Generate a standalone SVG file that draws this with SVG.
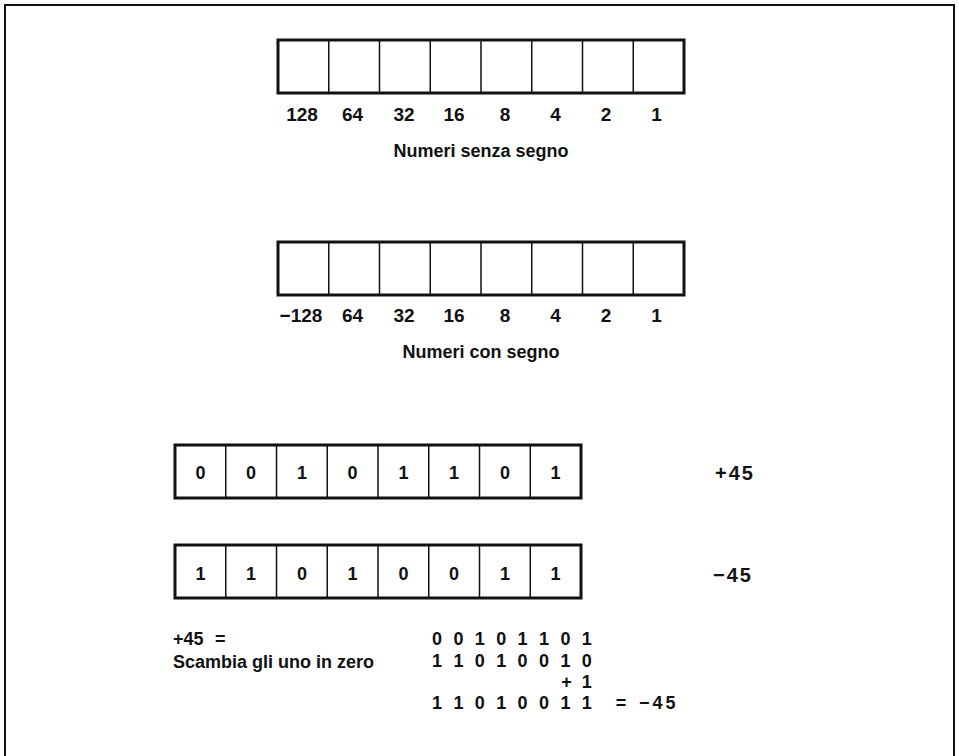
<svg xmlns="http://www.w3.org/2000/svg" width="959" height="756" viewBox="0 0 959 756">
<style>
text{font-family:"Liberation Sans",Arial,sans-serif;font-weight:bold;fill:#111;}
.lbl{font-size:19px;text-anchor:middle;}
.dig{font-size:18px;text-anchor:middle;}
.cap{font-size:18px;text-anchor:middle;}
.txt{font-size:18px;}
.val{font-size:20px;letter-spacing:2px;}
.outer{fill:#fff;stroke:#111;stroke-width:3;}
.div{stroke:#111;stroke-width:1.5;}
.frame{fill:none;stroke:#111;stroke-width:2;}
</style>
<rect width="959" height="756" fill="#fff"/>
<path class="frame" d="M5,756 V5 H954 V756"/>

<g id="reg-unsigned">
<rect class="outer" x="278" y="40" width="406" height="53"/>
<path class="div" d="M328.75,40V93M379.5,40V93M430.25,40V93M481,40V93M531.75,40V93M582.5,40V93M633.25,40V93"/>
<text class="lbl" y="121"><tspan x="302">128</tspan><tspan x="352.5">64</tspan><tspan x="404">32</tspan><tspan x="454">16</tspan><tspan x="505">8</tspan><tspan x="555.5">4</tspan><tspan x="606">2</tspan><tspan x="656.5">1</tspan></text>
<text class="cap" x="481" y="157">Numeri senza segno</text>
</g>

<g id="reg-signed">
<rect class="outer" x="278" y="242" width="406" height="53"/>
<path class="div" d="M328.75,242V295M379.5,242V295M430.25,242V295M481,242V295M531.75,242V295M582.5,242V295M633.25,242V295"/>
<text class="lbl" y="322"><tspan x="301">−128</tspan><tspan x="352.5">64</tspan><tspan x="404">32</tspan><tspan x="454">16</tspan><tspan x="505">8</tspan><tspan x="555.5">4</tspan><tspan x="606">2</tspan><tspan x="656.5">1</tspan></text>
<text class="cap" x="481" y="358">Numeri con segno</text>
</g>

<g id="reg-plus45">
<rect class="outer" x="175" y="445" width="406" height="53"/>
<path class="div" d="M225.75,445V498M276.5,445V498M327.25,445V498M378,445V498M428.75,445V498M479.5,445V498M530.25,445V498"/>
<text class="dig" y="479"><tspan x="200.4">0</tspan><tspan x="251.1">0</tspan><tspan x="301.9">1</tspan><tspan x="352.6">0</tspan><tspan x="403.4">1</tspan><tspan x="454.1">1</tspan><tspan x="504.9">0</tspan><tspan x="555.6">1</tspan></text>
</g>
<text id="val-plus45" class="val" x="715" y="480">+45</text>

<g id="reg-minus45">
<rect class="outer" x="175" y="545" width="406" height="53"/>
<path class="div" d="M225.75,545V598M276.5,545V598M327.25,545V598M378,545V598M428.75,545V598M479.5,545V598M530.25,545V598"/>
<text class="dig" y="580"><tspan x="200.4">1</tspan><tspan x="251.1">1</tspan><tspan x="301.9">0</tspan><tspan x="352.6">1</tspan><tspan x="403.4">0</tspan><tspan x="454.1">0</tspan><tspan x="504.9">1</tspan><tspan x="555.6">1</tspan></text>
</g>
<text id="val-minus45" class="val" x="713" y="582">−45</text>

<g id="calc">
<text class="txt" y="645"><tspan x="173">+45</tspan><tspan x="215">=</tspan></text>
<text class="txt" x="173" y="668">Scambia gli uno in zero</text>
<text class="dig" y="645"><tspan x="437">0</tspan><tspan x="458.4">0</tspan><tspan x="479.8">1</tspan><tspan x="501.2">0</tspan><tspan x="522.6">1</tspan><tspan x="544">1</tspan><tspan x="565.4">0</tspan><tspan x="586.8">1</tspan></text>
<text class="dig" y="667"><tspan x="437">1</tspan><tspan x="458.4">1</tspan><tspan x="479.8">0</tspan><tspan x="501.2">1</tspan><tspan x="522.6">0</tspan><tspan x="544">0</tspan><tspan x="565.4">1</tspan><tspan x="586.8">0</tspan></text>
<text class="dig" y="688"><tspan x="566.5">+</tspan><tspan x="586.8">1</tspan></text>
<text class="dig" y="709"><tspan x="437">1</tspan><tspan x="458.4">1</tspan><tspan x="479.8">0</tspan><tspan x="501.2">1</tspan><tspan x="522.6">0</tspan><tspan x="544">0</tspan><tspan x="565.4">1</tspan><tspan x="586.8">1</tspan><tspan x="621">=</tspan></text>
<text class="txt" x="639" y="709" style="letter-spacing:3px">−45</text>
</g>
</svg>
